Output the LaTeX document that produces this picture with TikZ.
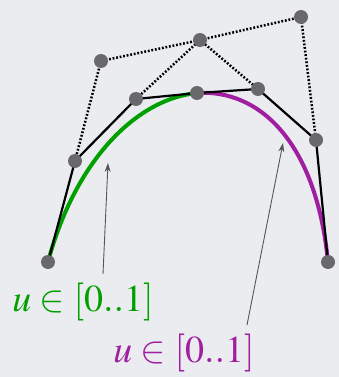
\documentclass[tikz,border=0pt]{standalone}
\usepackage{mathptmx}
\usetikzlibrary{arrows.meta}
\definecolor{bg}{RGB}{235,236,239}
\definecolor{dotgray}{RGB}{105,105,108}
\definecolor{cgreen}{RGB}{0,160,0}
\definecolor{cmag}{RGB}{160,30,160}
\definecolor{pointer}{RGB}{85,85,88}
\tikzset{
  pt/.style={circle,fill=dotgray,inner sep=0pt,minimum size=14pt},
  hull/.style={line width=2.2pt,black},
  cage/.style={line width=2.5pt,black,dash pattern=on 1.8pt off 1.8pt},
  pointerline/.style={line width=0.9pt,pointer,-{Stealth[length=9pt,width=6pt]}},
  lbl/.style={inner sep=0pt,font=\fontsize{38}{42}\selectfont}
}
\begin{document}
\begin{tikzpicture}[x=1pt,y=-1pt]
\fill[bg] (0,0) rectangle (339,377);
\useasboundingbox (0,0) rectangle (339,377);
% coordinates
\coordinate (e0) at (48,262);
\coordinate (q0) at (75,161);
\coordinate (q1) at (136,99);
\coordinate (m) at (197,93);
\coordinate (q2) at (258,89);
\coordinate (q3) at (316,140);
\coordinate (e1) at (328,262);
\coordinate (pl) at (101,61);
\coordinate (pm) at (200,40);
\coordinate (pr) at (301,17);
% dotted cage
\draw[cage] (q0) -- (pl) -- (pm) -- (pr) -- (q3);
\draw[cage] (q1) -- (pm) -- (q2);
% curves
\draw[line width=4pt,cgreen] (e0) .. controls (q0) and (q1) .. (m);
\draw[line width=4pt,cmag] (m) .. controls (q2) and (q3) .. (e1);
% hull
\draw[hull] (e0) -- (q0) -- (q1) -- (m) -- (q2) -- (q3) -- (e1);
% points
\foreach \p in {e0,q0,q1,m,q2,q3,e1,pl,pm,pr}
  \node[pt] (n\p) at (\p) {};
% labels
\node[lbl,text=cgreen] (lg) at (83,302) {$u\in[0..1]$};
\node[lbl,text=cmag] (lm) at (184,353) {$u\in[0..1]$};
\coordinate (tg) at (108,163);
\coordinate (tm) at (283,143);
\coordinate (sg) at (103,274);
\coordinate (sm) at (247,325);
\draw[pointerline] (sg) -- (tg);
\draw[pointerline] (sm) -- (tm);
\end{tikzpicture}
\end{document}
